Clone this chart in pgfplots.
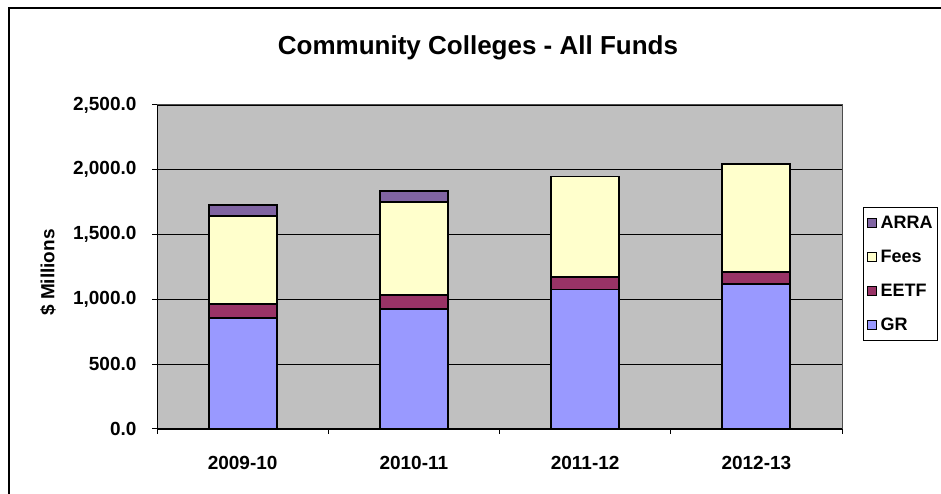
\documentclass[border=0pt]{standalone}
\usepackage{fontspec}
\setmainfont{Liberation Sans}
\usepackage{pgfplots}
\pgfplotsset{compat=1.18}
\definecolor{grc}{HTML}{9999FF}
\definecolor{eetfc}{HTML}{993366}
\definecolor{feesc}{HTML}{FFFFCC}
\definecolor{arrac}{HTML}{8064A2}
\definecolor{plotbg}{HTML}{C0C0C0}
\begin{document}
\begin{tikzpicture}[x=1pt,y=1pt]
\useasboundingbox (0,0) rectangle (941,494);
\draw[line width=2pt] (9,0) -- (9,486) -- (941,486);
\begin{axis}[
  at={(157pt,65pt)}, anchor=south west,
  scale only axis, width=685pt, height=324pt,
  ybar stacked, bar width=68pt,
  xmin=-0.5, xmax=3.5, ymin=0, ymax=2500,
  axis lines*=left,
  axis line style={black, line width=1pt},
  axis background/.style={fill=plotbg, draw=gray!60!black, line width=1pt},
  ytick={0,500,...,2500},
  ymajorgrids, grid style={black, line width=0.8pt},
  tick align=outside, major tick length=5pt,
  tick style={black, line width=1pt},
  xtick={-0.5,0.5,1.5,2.5,3.5}, xticklabels={},
  extra x ticks={0,1,2,3},
  extra x tick labels={2009-10,2010-11,2011-12,2012-13},
  extra x tick style={major tick length=0pt, grid=none,
     xticklabel style={anchor=center, yshift=-34pt}},
  /pgf/number format/.cd, fixed, fixed zerofill, precision=1, 1000 sep={,}, assume math mode=true,
  /pgfplots/.cd,
  tick label style={font=\fontsize{19}{19}\selectfont\bfseries},
  yticklabel style={xshift=-12pt},
  ylabel={\$ Millions},
  ylabel style={font=\fontsize{19}{19}\selectfont\bfseries, at={(axis description cs:-0.159,0.483)}, anchor=center},
  legend image code/.code={\draw[#1, draw=black, line width=1pt] (0pt,-4.5pt) rectangle (9pt,4.5pt);},
  reverse legend,
  legend cell align=left,
  legend style={at={(1.0307,0.686)}, anchor=north west, draw=black, line width=1pt,
     font=\fontsize{18}{18}\selectfont\bfseries, row sep=16pt, column sep=2pt,
     inner xsep=3pt, inner ysep=7pt},
]
\addplot[fill=grc, draw=black, line width=1.8pt] coordinates {(0,858) (1,927) (2,1077) (3,1118)};
\addlegendentry{GR}
\addplot[fill=eetfc, draw=black, line width=1.8pt] coordinates {(0,108) (1,108) (2,97) (3,95)};
\addlegendentry{EETF}
\addplot[fill=feesc, draw=black, line width=1.8pt] coordinates {(0,676) (1,717) (2,774) (3,830)};
\addlegendentry{Fees}
\addplot[fill=arrac, draw=black, line width=1.8pt] coordinates {(0,85) (1,85)};
\addlegendentry{ARRA}
\end{axis}
\node[font=\fontsize{26}{26}\selectfont\bfseries] at (478,446) {Community Colleges - All Funds};
\end{tikzpicture}
\end{document}
